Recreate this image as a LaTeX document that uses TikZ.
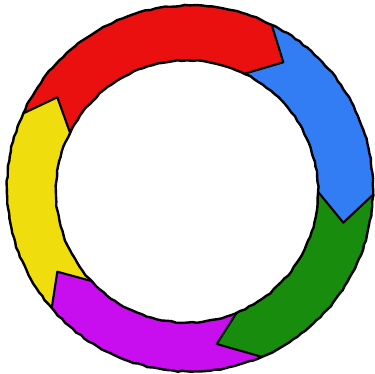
\documentclass[tikz,border=0pt]{standalone}
\usetikzlibrary{calc,decorations.pathmorphing}
\definecolor{segred}{RGB}{234,16,16}
\definecolor{segblue}{RGB}{50,124,244}
\definecolor{seggreen}{RGB}{24,140,12}
\definecolor{segpurple}{RGB}{200,14,238}
\definecolor{segyellow}{RGB}{240,221,14}
\tikzset{
  rim/.style={line width=2.4pt,line join=round,decorate,decoration={random steps,segment length=5pt,amplitude=0.6pt}},
  edge/.style={line width=2.1pt,line join=round,line cap=round}
}
\pgfmathsetseed{7}
\begin{document}
\begin{tikzpicture}[x=1pt,y=1pt]
\useasboundingbox (0,0) rectangle (375,374);
\coordinate (O) at (190,185.5);
\coordinate (I) at (187,182.5);
\def\R{183}
\def\r{131}
% boundary points: outer angle, tip, inner angle
\coordinate (Ao) at ($(O)+(63.5:\R)$);   \coordinate (At) at (283.3,311.7); \coordinate (Ai) at ($(I)+(64:\r)$);
\coordinate (Bo) at ($(O)+(-2:\R)$);     \coordinate (Bt) at (343.3,151.3); \coordinate (Bi) at ($(I)+(-0.1:\r)$);
\coordinate (Co) at ($(O)+(-66.9:\R)$);  \coordinate (Ct) at (216.7,30);    \coordinate (Ci) at ($(I)+(-67.7:\r)$);
\coordinate (Do) at ($(O)+(220.9:\R)$);  \coordinate (Dt) at (57.3,102.3);  \coordinate (Di) at ($(I)+(223.1:\r)$);
\coordinate (Eo) at ($(O)+(155.8:\R)$);  \coordinate (Et) at (57.3,276.7);  \coordinate (Ei) at ($(I)+(153.3:\r)$);
% red
\fill[segred] (Eo) arc[start angle=155.8,end angle=63.5,radius=\R] -- (At) -- (Ai)
  arc[start angle=64,end angle=153.3,radius=\r] -- (Et) -- cycle;
% blue
\fill[segblue] (Ao) arc[start angle=63.5,end angle=-2,radius=\R] -- (Bt) -- (Bi)
  arc[start angle=-0.1,end angle=64,radius=\r] -- (At) -- cycle;
% green
\fill[seggreen] (Bo) arc[start angle=-2,end angle=-66.9,radius=\R] -- (Ct) -- (Ci)
  arc[start angle=-67.7,end angle=-0.1,radius=\r] -- (Bt) -- cycle;
% purple
\fill[segpurple] (Co) arc[start angle=-66.9,end angle=-139.1,radius=\R] -- (Dt) -- (Di)
  arc[start angle=-136.9,end angle=-67.7,radius=\r] -- (Ct) -- cycle;
% yellow
\fill[segyellow] (Do) arc[start angle=220.9,end angle=155.8,radius=\R] -- (Et) -- (Ei)
  arc[start angle=153.3,end angle=223.1,radius=\r] -- (Dt) -- cycle;
% boundaries
\draw[edge] (Ao) -- (At) -- (Ai);
\draw[edge] (Bo) -- (Bt) -- (Bi);
\draw[edge] (Co) -- (Ct) -- (Ci);
\draw[edge] (Do) -- (Dt) -- (Di);
\draw[edge] (Eo) -- (Et) -- (Ei);
% rims
\draw[rim] (O) circle[radius=\R];
\draw[rim] (I) circle[radius=\r];
\end{tikzpicture}
\end{document}
